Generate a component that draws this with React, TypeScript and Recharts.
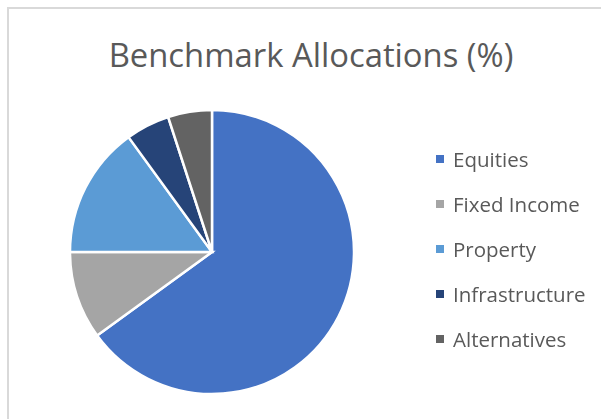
import { Pie, PieChart, Cell, Legend } from "recharts";

const categories = ["Equities", "Fixed Income", "Property", "Infrastructure", "Alternatives"];
const allocations = [65, 10, 15, 5, 5];
const sliceColors = ["#4472C4", "#A5A5A5", "#5B9BD5", "#264478", "#636363"];

const chartData = categories.map((name, i) => ({ name, value: allocations[i] }));

const renderLegend = () => (
  <div style={{ display: "flex", flexDirection: "column" }}>
    {categories.map((name, index) => (
      <div
        key={name}
        style={{ display: "flex", alignItems: "center", height: 45, color: "#595959", fontSize: 20.5 }}
      >
        <div
          style={{ width: 8, height: 8, backgroundColor: sliceColors[index], marginRight: 9 }}
        />
        {name}
      </div>
    ))}
  </div>
);

export default function App() {
  return (
    <div
      style={{
        position: "fixed",
        left: 0,
        top: 0,
        width: 601,
        height: 419,
        background: "#fff",
        fontFamily: "'Open Sans', sans-serif",
      }}
    >
      <div
        style={{
          position: "absolute",
          left: 7,
          top: 7,
          width: 620,
          height: 430,
          borderLeft: "2px solid #D9D9D9",
          borderTop: "2px solid #D9D9D9",
        }}
      />
      <div
        style={{
          position: "absolute",
          left: 0,
          top: 32,
          width: 622,
          textAlign: "center",
          fontSize: 32.8,
          color: "#595959",
        }}
      >
        Benchmark Allocations (%)
      </div>
      <div style={{ position: "absolute", left: 0, top: 0 }}>
        <PieChart width={601} height={419}>
          <Pie
            data={chartData}
            dataKey="value"
            cx={207}
            cy={247}
            outerRadius={142}
            startAngle={90}
            endAngle={-270}
            stroke="#fff"
            strokeWidth={2.5}
            isAnimationActive={false}
          >
            {chartData.map((_entry, index) => (
              <Cell key={`cell-${index}`} fill={sliceColors[index]} />
            ))}
          </Pie>
          <Legend
            layout="vertical"
            content={renderLegend}
            wrapperStyle={{ left: 436, top: 136, width: 170 }}
          />
        </PieChart>
      </div>
    </div>
  );
}
